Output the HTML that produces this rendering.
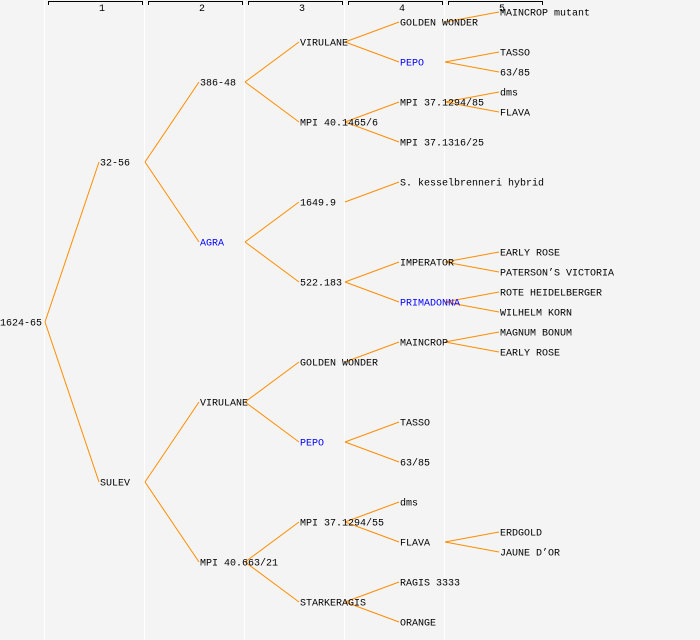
<!DOCTYPE html>
<html><head><meta charset="utf-8"><style>
html,body{margin:0;padding:0;background:#f4f4f4;}
svg{display:block;}
text{font-family:"Liberation Mono",monospace;font-size:10px;}
</style></head><body>
<svg width="700" height="640" xmlns="http://www.w3.org/2000/svg">
<rect width="700" height="640" fill="#f4f4f4"/>
<g stroke="#ffffff" stroke-width="1">
<line x1="44.5" y1="0" x2="44.5" y2="640"/>
<line x1="144.5" y1="0" x2="144.5" y2="640"/>
<line x1="244.5" y1="0" x2="244.5" y2="640"/>
<line x1="344.5" y1="0" x2="344.5" y2="640"/>
<line x1="444.5" y1="0" x2="444.5" y2="640"/>
</g>
<g stroke="#000" stroke-width="1" fill="none">
<path d="M48.5 5V1.5H142.5V5"/>
<path d="M148.5 5V1.5H242.5V5"/>
<path d="M248.5 5V1.5H342.5V5"/>
<path d="M348.5 5V1.5H442.5V5"/>
<path d="M448.5 5V1.5H542.5V5"/>
</g>
<g text-anchor="middle" style="font-size:8px">
<text x="102" y="11">1</text><text x="202" y="11">2</text><text x="302" y="11">3</text><text x="402" y="11">4</text><text x="502" y="11">5</text>
</g>
<g stroke="#ff8c00" stroke-width="1" fill="none">
<line x1="45" y1="322" x2="99" y2="162"/><line x1="45" y1="322" x2="99" y2="482"/>
<line x1="145" y1="162" x2="199" y2="82"/><line x1="145" y1="162" x2="199" y2="242"/>
<line x1="145" y1="482" x2="199" y2="402"/><line x1="145" y1="482" x2="199" y2="562"/>
<line x1="245" y1="82" x2="299" y2="42"/><line x1="245" y1="82" x2="299" y2="122"/>
<line x1="245" y1="242" x2="299" y2="202"/><line x1="245" y1="242" x2="299" y2="282"/>
<line x1="245" y1="402" x2="299" y2="362"/><line x1="245" y1="402" x2="299" y2="442"/>
<line x1="245" y1="562" x2="299" y2="522"/><line x1="245" y1="562" x2="299" y2="602"/>
<line x1="345" y1="42" x2="399" y2="22"/><line x1="345" y1="42" x2="399" y2="62"/>
<line x1="345" y1="122" x2="399" y2="102"/><line x1="345" y1="122" x2="399" y2="142"/>
<line x1="345" y1="202" x2="399" y2="182"/>
<line x1="345" y1="282" x2="399" y2="262"/><line x1="345" y1="282" x2="399" y2="302"/>
<line x1="345" y1="362" x2="399" y2="342"/>
<line x1="345" y1="442" x2="399" y2="422"/><line x1="345" y1="442" x2="399" y2="462"/>
<line x1="345" y1="522" x2="399" y2="502"/><line x1="345" y1="522" x2="399" y2="542"/>
<line x1="345" y1="602" x2="399" y2="582"/><line x1="345" y1="602" x2="399" y2="622"/>
<line x1="445" y1="22" x2="499" y2="12"/>
<line x1="445" y1="62" x2="499" y2="52"/><line x1="445" y1="62" x2="499" y2="72"/>
<line x1="445" y1="102" x2="499" y2="92"/><line x1="445" y1="102" x2="499" y2="112"/>
<line x1="445" y1="262" x2="499" y2="252"/><line x1="445" y1="262" x2="499" y2="272"/>
<line x1="445" y1="302" x2="499" y2="292"/><line x1="445" y1="302" x2="499" y2="312"/>
<line x1="445" y1="342" x2="499" y2="332"/><line x1="445" y1="342" x2="499" y2="352"/>
<line x1="445" y1="542" x2="499" y2="532"/><line x1="445" y1="542" x2="499" y2="552"/>
</g>
<g fill="#000" dominant-baseline="central" transform="translate(0,2)">
<text x="0" y="322">1624-65</text>
<text x="100" y="162">32-56</text><text x="100" y="482">SULEV</text>
<text x="200" y="82">386-48</text><text x="200" y="242" fill="#0000ff">AGRA</text>
<text x="200" y="402">VIRULANE</text><text x="200" y="562">MPI 40.663/21</text>
<text x="300" y="42">VIRULANE</text><text x="300" y="122">MPI 40.1465/6</text>
<text x="300" y="202">1649.9</text><text x="300" y="282">522.183</text>
<text x="300" y="362">GOLDEN WONDER</text><text x="300" y="442" fill="#0000ff">PEPO</text>
<text x="300" y="522">MPI 37.1294/55</text><text x="300" y="602">STARKERAGIS</text>
<text x="400" y="22">GOLDEN WONDER</text><text x="400" y="62" fill="#0000ff">PEPO</text>
<text x="400" y="102">MPI 37.1294/85</text><text x="400" y="142">MPI 37.1316/25</text>
<text x="400" y="182">S. kesselbrenneri hybrid</text>
<text x="400" y="262">IMPERATOR</text><text x="400" y="302" fill="#0000ff">PRIMADONNA</text>
<text x="400" y="342">MAINCROP</text>
<text x="400" y="422">TASSO</text><text x="400" y="462">63/85</text>
<text x="400" y="502">dms</text><text x="400" y="542">FLAVA</text>
<text x="400" y="582">RAGIS 3333</text><text x="400" y="622">ORANGE</text>
<text x="500" y="12">MAINCROP mutant</text>
<text x="500" y="52">TASSO</text><text x="500" y="72">63/85</text>
<text x="500" y="92">dms</text><text x="500" y="112">FLAVA</text>
<text x="500" y="252">EARLY ROSE</text><text x="500" y="272">PATERSON’S VICTORIA</text>
<text x="500" y="292">ROTE HEIDELBERGER</text><text x="500" y="312">WILHELM KORN</text>
<text x="500" y="332">MAGNUM BONUM</text><text x="500" y="352">EARLY ROSE</text>
<text x="500" y="532">ERDGOLD</text><text x="500" y="552">JAUNE D’OR</text>
</g>
</svg>
</body></html>
